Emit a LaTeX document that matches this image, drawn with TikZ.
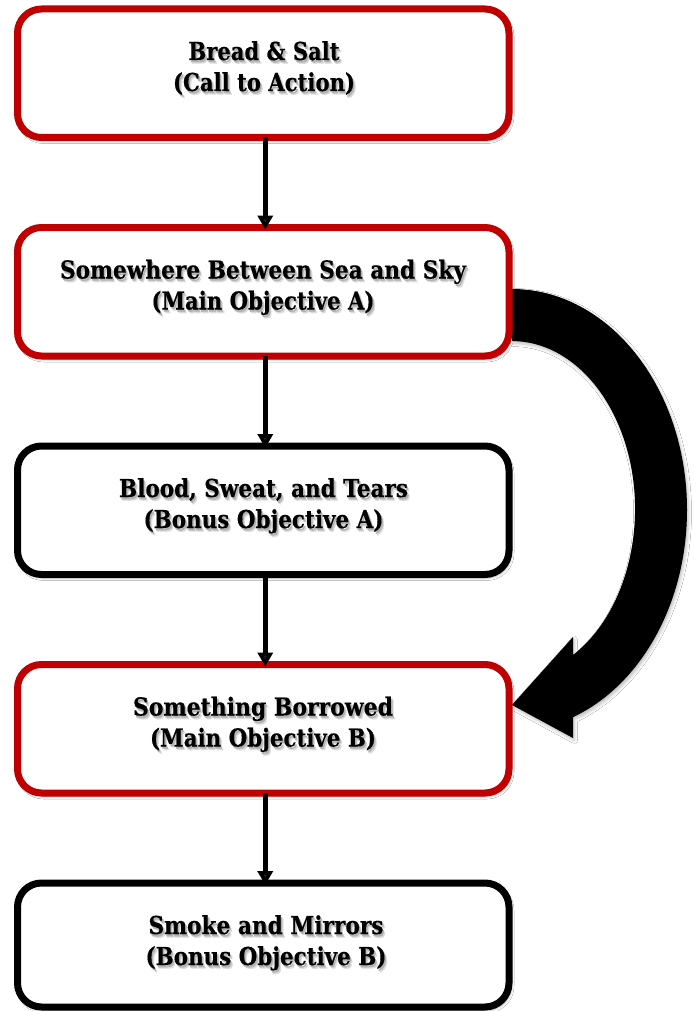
\documentclass[tikz,border=0pt]{standalone}
\usepackage{fontspec}
\setmainfont{DejaVu Serif}[BoldFeatures={FakeBold=0.4}]
\usetikzlibrary{arrows.meta,shadows.blur,calc}
\definecolor{boxred}{HTML}{C00000}
\tikzset{
  stage/.style={draw=#1, line width=7pt, rounded corners=24pt, fill=white,
    minimum width=491.5pt, minimum height=128.5pt, inner sep=0pt, outer sep=0pt,
    blur shadow={shadow xshift=2pt, shadow yshift=-3pt, shadow blur radius=3pt, shadow opacity=35}},
  flow/.style={line width=5pt, -{Triangle[width=15pt,length=14pt]}},
  lbl/.style={inner sep=0pt, anchor=base, font=\bfseries\fontsize{24.7}{31}\selectfont},
}
% one text line with a soft drop shadow, all in one node
\newcommand\tline[5]{%
  \node[lbl] (#1) at (#2,#3) {%
    \rlap{\kern2.6pt\raisebox{-3.6pt}{\color{black!14}\resizebox{#4pt}{\height}{#5}}}%
    \rlap{\kern1.4pt\raisebox{-2.2pt}{\color{black!30}\resizebox{#4pt}{\height}{#5}}}%
    \resizebox{#4pt}{\height}{#5}};
}
\begin{document}
\begin{tikzpicture}[x=1pt,y=-1pt]
\fill[white] (0,0) rectangle (696,1011);
\useasboundingbox (0,0) rectangle (696,1011);

% big curved arrow
\fill[black, blur shadow={shadow xshift=1.5pt, shadow yshift=-2.5pt, shadow blur radius=3pt, shadow opacity=25}]
  (512,289) arc[start angle=-90, end angle=69.6, x radius=175, y radius=221]
  -- (573,738) -- (512,705) -- (573,637) -- (573,655)
  arc[start angle=60.3, end angle=-90, x radius=123, y radius=168] -- cycle;

\node[stage=boxred] (b1) at (263.25,73.25) {};
\node[stage=boxred] (b2) at (263.25,291.75) {};
\node[stage=black]  (b3) at (263.25,510.25) {};
\node[stage=boxred] (b4) at (263.25,728.75) {};
\node[stage=black, minimum height=124pt] (b5) at (263.25,945) {};

\draw[flow] ([xshift=2pt]b1.south) -- ([xshift=2pt,yshift=-2pt]b2.north);
\draw[flow] ([xshift=2pt]b2.south) -- ([xshift=2pt,yshift=-2pt]b3.north);
\draw[flow] ([xshift=2pt]b3.south) -- ([xshift=2pt,yshift=-2pt]b4.north);
\draw[flow] ([xshift=2pt]b4.south) -- ([xshift=2pt,yshift=-2pt]b5.north);

\tline{t1a}{264}{60}{151}{Bread \& Salt}
\tline{t1b}{264}{91}{182}{(Call to Action)}
\tline{t2a}{263}{278.5}{406}{Somewhere Between Sea and Sky}
\tline{t2b}{263}{309.5}{223}{(Main Objective A)}
\tline{t3a}{263.5}{497}{289}{Blood, Sweat, and Tears}
\tline{t3b}{263.5}{528}{240}{(Bonus Objective A)}
\tline{t4a}{263}{715.5}{260}{Something Borrowed}
\tline{t4b}{263}{746.5}{226}{(Main Objective B)}
\tline{t5a}{266}{934}{235}{Smoke and Mirrors}
\tline{t5b}{266}{965}{241}{(Bonus Objective B)}
\end{tikzpicture}
\end{document}
